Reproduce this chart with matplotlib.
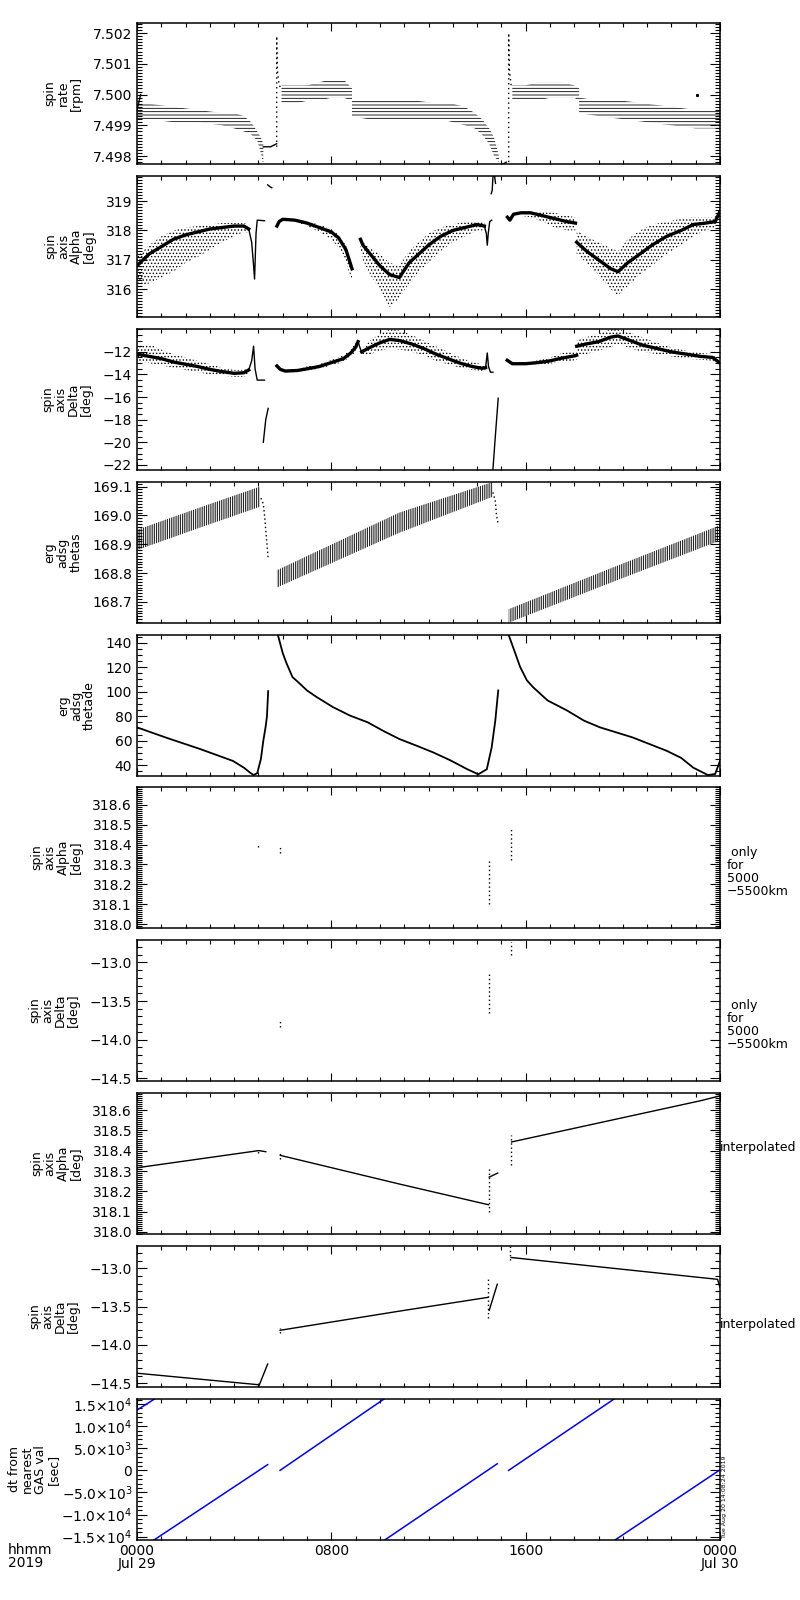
"""ERG spin-axis / attitude summary plot for 2019-07-29 (IDL tplot look-alike)."""
import matplotlib
import matplotlib.pyplot as plt
from matplotlib.ticker import FixedLocator, FixedFormatter, MultipleLocator

matplotlib.use("Agg")

plt.rcParams["font.family"] = ["DejaVu Sans"]
plt.rcParams["hatch.linewidth"] = 0.6

BLACK = "#000000"
BLUE = "#0000ff"

# ---------------- data, x in hours from 2019-07-29 00:00 ----------------
# panel 1: spin rate [rpm] (quantised -> band of levels)
rate_a_h = [0.0, 0.5, 1.5, 2.5, 3.5, 4.0, 4.4, 4.7, 4.95, 5.1, 5.2]
rate_a_lo = [7.4992, 7.4992, 7.4991, 7.4991, 7.4990, 7.4989, 7.4988, 7.4987, 7.4985, 7.4981, 7.4977]
rate_a_hi = [7.4997, 7.4997, 7.4996, 7.4995, 7.4994, 7.4994, 7.4993, 7.4991, 7.4988, 7.4986, 7.4984]
rate_b_h = [5.95, 6.5, 7.0, 7.5, 8.0, 8.5, 8.85]
rate_b_lo = [7.4997, 7.4997, 7.4998, 7.4998, 7.4999, 7.4999, 7.4998]
rate_b_hi = [7.5003, 7.5003, 7.5003, 7.5004, 7.5005, 7.5005, 7.5002]
rate_c_h = [8.85, 9.5, 10.5, 11.5, 12.5, 13.0, 13.5, 13.9, 14.2, 14.5, 14.7, 14.9]
rate_c_lo = [7.4993, 7.4992, 7.4992, 7.4992, 7.4992, 7.4991, 7.4990, 7.4989, 7.4987, 7.4984, 7.4980, 7.4978]
rate_c_hi = [7.4998, 7.4998, 7.4998, 7.4998, 7.4997, 7.4997, 7.4996, 7.4994, 7.4992, 7.4989, 7.4986, 7.4980]
rate_d_h = [15.45, 16.0, 16.5, 17.0, 17.5, 18.0, 18.2]
rate_d_lo = [7.4998, 7.4998, 7.4998, 7.4999, 7.4999, 7.4999, 7.4998]
rate_d_hi = [7.5003, 7.5003, 7.5004, 7.5004, 7.5004, 7.5003, 7.5002]
rate_e_h = [18.2, 19.0, 20.0, 21.0, 22.0, 23.0, 24.0]
rate_e_lo = [7.4994, 7.4993, 7.4992, 7.4991, 7.4990, 7.4989, 7.4989]
rate_e_hi = [7.4999, 7.4998, 7.4998, 7.4997, 7.4996, 7.4995, 7.4995]
rate_flat_h = [[5.2, 5.5, 5.75], [14.9, 15.0, 15.2]]
rate_flat_v = [[7.4983, 7.4983, 7.4984], [7.4977, 7.4977, 7.4978]]
rate_spike_h = [[5.75, 5.75, 5.78, 5.85, 5.95], [15.3, 15.3, 15.33, 15.4, 15.45]]
rate_spike_v = [[7.4983, 7.5019, 7.5008, 7.5003, 7.5002], [7.4978, 7.5020, 7.5008, 7.5003, 7.5002]]
rate_start_h = [0.0, 0.15]
rate_start_v = [7.4995, 7.5000]
rate_lone_h = [23.05]
rate_lone_v = [7.5000]

# panel 2: spin axis alpha [deg]  (core line + scatter envelope)
alpha_seg_h = [
    [0.0, 0.5, 1.0, 1.5, 2.0, 2.5, 3.0, 3.5, 4.0, 4.4, 4.6],
    [5.76, 5.85, 6.0, 6.5, 7.0, 7.5, 8.0, 8.3, 8.6, 8.85],
    [9.2, 9.3, 9.6, 10.0, 10.4, 10.8, 11.2, 11.6, 12.0, 12.5, 13.0, 13.5, 14.0, 14.3],
    [15.25, 15.35, 15.5, 15.8, 16.2, 16.7, 17.2, 17.7, 18.05],
    [18.1, 18.5, 19.0, 19.5, 19.8, 20.2, 20.7, 21.2, 21.8, 22.4, 22.9, 23.4, 23.8, 24.0],
]
alpha_seg_core = [
    [316.8, 317.2, 317.45, 317.7, 317.85, 317.95, 318.05, 318.1, 318.15, 318.15, 318.05],
    [318.15, 318.3, 318.38, 318.35, 318.25, 318.1, 317.95, 317.75, 317.35, 316.7],
    [317.7, 317.5, 317.2, 316.8, 316.5, 316.4, 316.9, 317.2, 317.5, 317.8, 318.0, 318.1, 318.2, 318.15],
    [318.45, 318.35, 318.55, 318.6, 318.6, 318.5, 318.4, 318.3, 318.25],
    [317.6, 317.3, 317.0, 316.7, 316.6, 316.9, 317.2, 317.5, 317.8, 318.0, 318.2, 318.25, 318.3, 318.65],
]
alpha_seg_lo = [
    [316.1, 316.2, 316.4, 316.6, 316.9, 317.1, 317.35, 317.6, 317.8, 317.95, 317.9],
    [318.12, 318.27, 318.33, 318.3, 318.15, 317.95, 317.7, 317.4, 316.9, 316.3],
    [317.3, 317.0, 316.5, 316.0, 315.4, 315.7, 316.2, 316.6, 316.9, 317.3, 317.6, 317.8, 318.0, 318.0],
    [318.4, 318.3, 318.5, 318.5, 318.45, 318.3, 318.1, 318.0, 318.0],
    [317.2, 316.9, 316.5, 316.0, 315.8, 316.1, 316.5, 316.8, 317.2, 317.5, 317.8, 318.0, 318.1, 318.5],
]
alpha_seg_hi = [
    [317.1, 317.5, 317.8, 318.0, 318.1, 318.15, 318.2, 318.25, 318.25, 318.25, 318.2],
    [318.2, 318.35, 318.42, 318.4, 318.3, 318.2, 318.05, 317.85, 317.5, 316.9],
    [317.8, 317.6, 317.4, 317.2, 316.9, 316.8, 317.3, 317.6, 317.9, 318.1, 318.2, 318.3, 318.3, 318.3],
    [318.5, 318.4, 318.6, 318.65, 318.65, 318.65, 318.6, 318.5, 318.45],
    [318.0, 317.8, 317.6, 317.4, 317.3, 317.7, 318.0, 318.2, 318.3, 318.4, 318.45, 318.45, 318.45, 318.7],
]
alpha_line_h = [
    [4.6, 4.72, 4.8, 4.84, 4.9, 4.95, 5.25],
    [5.38, 5.45, 5.55],
    [14.3, 14.38, 14.42, 14.46, 14.52, 14.6],
    [14.58, 14.62, 14.66, 14.72, 14.76],
]
alpha_line_v = [
    [318.05, 317.6, 316.8, 316.35, 317.9, 318.35, 318.33],
    [319.55, 319.5, 319.45],
    [318.15, 317.9, 317.5, 317.9, 318.3, 318.35],
    [319.25, 319.35, 319.9, 319.85, 319.6],
]

# panel 3: spin axis delta [deg]
delta_seg_h = [
    [0.0, 0.5, 1.0, 1.5, 2.0, 2.5, 3.0, 3.5, 4.0, 4.4, 4.6],
    [5.76, 5.9, 6.1, 6.6, 7.0, 7.5, 8.0, 8.5, 8.8, 9.0, 9.1],
    [9.25, 9.6, 10.0, 10.4, 10.8, 11.3, 11.8, 12.3, 12.8, 13.3, 13.8, 14.2, 14.35],
    [15.24, 15.45, 16.0, 16.5, 17.0, 17.5, 17.9, 18.1],
    [18.1, 18.5, 19.0, 19.5, 19.8, 20.3, 20.8, 21.4, 22.0, 22.6, 23.2, 23.7, 24.0],
]
delta_seg_core = [
    [-12.2, -12.4, -12.6, -12.9, -13.1, -13.3, -13.55, -13.75, -13.9, -13.85, -13.6],
    [-13.25, -13.55, -13.7, -13.65, -13.5, -13.3, -12.95, -12.6, -12.1, -11.6, -11.1],
    [-12.0, -11.6, -11.2, -10.9, -11.0, -11.3, -11.7, -12.2, -12.6, -13.0, -13.3, -13.45, -13.4],
    [-12.75, -13.05, -13.05, -12.95, -12.8, -12.55, -12.4, -12.3],
    [-11.5, -11.3, -11.1, -10.7, -10.6, -11.0, -11.4, -11.7, -12.0, -12.2, -12.4, -12.5, -13.0],
]
delta_seg_lo = [
    [-12.8, -13.0, -13.2, -13.4, -13.6, -13.8, -14.0, -14.1, -14.2, -14.2, -14.0],
    [-13.35, -13.65, -13.8, -13.8, -13.65, -13.5, -13.2, -12.9, -12.4, -12.0, -11.5],
    [-12.4, -12.2, -11.9, -11.7, -11.8, -12.0, -12.3, -12.8, -13.1, -13.4, -13.6, -13.7, -13.6],
    [-12.9, -13.2, -13.2, -13.15, -13.05, -12.9, -12.8, -12.7],
    [-12.3, -12.2, -11.9, -11.6, -11.3, -11.7, -12.0, -12.2, -12.4, -12.6, -12.7, -12.8, -13.1],
]
delta_seg_hi = [
    [-11.4, -11.3, -11.8, -12.2, -12.5, -12.8, -13.1, -13.4, -13.6, -13.6, -13.4],
    [-13.15, -13.45, -13.6, -13.5, -13.3, -13.1, -12.7, -12.3, -11.8, -11.2, -10.8],
    [-11.8, -11.0, -10.4, -10.0, -10.1, -10.5, -11.0, -11.5, -12.0, -12.5, -12.9, -13.1, -13.2],
    [-12.6, -12.9, -12.9, -12.75, -12.5, -12.1, -12.0, -11.9],
    [-11.0, -10.7, -10.4, -10.0, -10.0, -10.3, -10.7, -11.2, -11.6, -11.9, -12.1, -12.2, -12.9],
]
delta_line_h = [
    [4.6, 4.72, 4.8, 4.86, 4.95, 5.25],
    [5.2, 5.3, 5.4],
    [9.1, 9.25],
    [14.35, 14.42, 14.47, 14.55, 14.65],
    [14.65, 14.75, 14.87],
]
delta_line_v = [
    [-13.6, -12.8, -11.5, -13.5, -14.5, -14.5],
    [-20.0, -18.0, -17.0],
    [-11.1, -12.1],
    [-13.4, -12.1, -13.3, -13.8, -13.8],
    [-22.45, -19.5, -16.1],
]

# panel 4: erg adsg thetas
thetas_seg_h = [[0.0, 2.5, 5.06], [5.76, 10.8, 14.65], [15.3, 19.6, 24.0]]
thetas_seg_lo = [[168.88, 168.955, 169.03], [168.75, 168.94, 169.065], [168.628, 168.77, 168.913]]
thetas_seg_hi = [[168.95, 169.025, 169.10], [168.81, 169.01, 169.116], [168.675, 168.82, 168.966]]
thetas_drop_h = [[5.1, 5.2, 5.25, 5.3, 5.4], [14.65, 14.75, 14.8, 14.87]]
thetas_drop_v = [[169.06, 169.04, 169.0, 168.95, 168.85], [169.08, 169.05, 169.0, 168.97]]

# panel 5: erg adsg thetade
thetade_seg_h = [
    [0.0, 1.2, 2.6, 3.95, 4.4, 4.65, 4.8, 4.95, 5.1, 5.2, 5.3, 5.35, 5.4],
    [5.8, 6.0, 6.16, 6.4, 6.7, 7.0, 7.4, 8.07, 8.77, 9.5, 10.14, 10.8, 11.5, 12.2, 12.9,
     13.6, 14.05, 14.4, 14.6, 14.75, 14.87],
    [15.3, 15.57, 15.77, 16.05, 16.3, 16.9, 17.7, 18.4, 19.06, 20.4, 21.8, 22.4, 22.9, 23.5,
     23.8, 24.0],
]
thetade_seg_v = [
    [70.9, 62.5, 53.2, 43.5, 38.0, 34.0, 32.0, 33.5, 45.0, 60.0, 72.0, 80.0, 100.5],
    [146.3, 131.5, 123.0, 112.0, 106.6, 101.0, 95.6, 87.4, 80.5, 75.0, 68.0, 61.4, 56.0, 50.4,
     44.0, 36.7, 32.6, 36.7, 54.5, 76.4, 101.0],
    [146.3, 131.5, 120.3, 109.3, 103.8, 92.9, 84.7, 76.4, 70.9, 62.7, 51.8, 46.0, 38.0, 32.0,
     32.8, 43.5],
]

# panels 6/7: values only for 5000-5500 km (sparse vertical dot runs)
only_alpha_h = [5.0, 5.9, 14.47, 15.4]
only_alpha_lo = [318.39, 318.36, 318.10, 318.32]
only_alpha_hi = [318.41, 318.39, 318.32, 318.48]
only_delta_h = [5.9, 14.47, 15.4, 24.0]
only_delta_lo = [-13.83, -13.65, -12.9, -13.22]
only_delta_hi = [-13.75, -13.14, -12.73, -13.15]

# panels 8/9: interpolated
interp_alpha_h = [[0.0, 4.98, 5.05, 5.3], [5.9, 10.8, 14.47], [14.5, 14.85], [15.42, 23.2, 24.0]]
interp_alpha_v = [[318.316, 318.40, 318.40, 318.395], [318.377, 318.236, 318.134],
                  [318.27, 318.29], [318.443, 318.646, 318.67]]
interp_alpha_dot_h = [5.0, 5.9, 14.47, 15.4]
interp_alpha_dot_lo = [318.39, 318.36, 318.10, 318.33]
interp_alpha_dot_hi = [318.41, 318.39, 318.32, 318.476]
interp_delta_h = [[0.0, 4.99], [5.0, 5.38], [5.89, 10.8, 14.45], [14.5, 14.83], [15.4, 23.9, 24.0]]
interp_delta_v = [[-14.37, -14.52], [-14.55, -14.25], [-13.81, -13.56, -13.38],
                  [-13.55, -13.21], [-12.86, -13.145, -13.25]]
interp_delta_dot_h = [5.89, 14.45, 15.36]
interp_delta_dot_lo = [-13.84, -13.65, -12.89]
interp_delta_dot_hi = [-13.78, -13.14, -12.71]

# panel 10: dt from nearest GAS value [sec]
dt_seg_h = [[0.0, 0.72], [0.7, 5.38], [5.89, 10.17], [10.2, 14.83], [15.3, 19.64], [19.68, 24.0]]
dt_seg_v = [[13630, 16140], [-15750, 1300], [0, 16140], [-15750, 1490], [0, 16140], [-15750, 125]]

# ---------------- axes annotation ----------------
y_titles = [
    "spin\nrate\n[rpm]",
    "spin\naxis\nAlpha\n[deg]",
    "spin\naxis\nDelta\n[deg]",
    "erg\nadsg\nthetas",
    "erg\nadsg\nthetade",
    "spin\naxis\nAlpha\n[deg]",
    "spin\naxis\nDelta\n[deg]",
    "spin\naxis\nAlpha\n[deg]",
    "spin\naxis\nDelta\n[deg]",
    "dt from\nnearest\nGAS val\n[sec]",
]
y_label_pad = [7, 7, 7, 7, 7, 7, 7, 7, 7, 1]
y_limits = [
    (7.49774, 7.50233), (315.06, 319.85), (-22.45, -9.98), (168.627, 169.116),
    (31.2, 146.3), (317.98, 318.69), (-14.535, -12.71), (317.99, 318.684),
    (-14.55, -12.71), (-15750, 16140),
]
y_major = [
    [7.498, 7.499, 7.500, 7.501, 7.502],
    [316, 317, 318, 319],
    [-22, -20, -18, -16, -14, -12],
    [168.7, 168.8, 168.9, 169.0, 169.1],
    [40, 60, 80, 100, 120, 140],
    [318.0, 318.1, 318.2, 318.3, 318.4, 318.5, 318.6],
    [-14.5, -14.0, -13.5, -13.0],
    [318.0, 318.1, 318.2, 318.3, 318.4, 318.5, 318.6],
    [-14.5, -14.0, -13.5, -13.0],
    [-15000, -10000, -5000, 0, 5000, 10000, 15000],
]
y_major_labels = [
    ["7.498", "7.499", "7.500", "7.501", "7.502"],
    ["316", "317", "318", "319"],
    ["\u221222", "\u221220", "\u221218", "\u221216", "\u221214", "\u221212"],
    ["168.7", "168.8", "168.9", "169.0", "169.1"],
    ["40", "60", "80", "100", "120", "140"],
    ["318.0", "318.1", "318.2", "318.3", "318.4", "318.5", "318.6"],
    ["\u221214.5", "\u221214.0", "\u221213.5", "\u221213.0"],
    ["318.0", "318.1", "318.2", "318.3", "318.4", "318.5", "318.6"],
    ["\u221214.5", "\u221214.0", "\u221213.5", "\u221213.0"],
    ["\u22121.5$\\times$10$^{4}$", "\u22121.0$\\times$10$^{4}$", "\u22125.0$\\times$10$^{3}$", "0",
     "5.0$\\times$10$^{3}$", "1.0$\\times$10$^{4}$", "1.5$\\times$10$^{4}$"],
]
y_minor_step = [0.0001, 0.1, 0.5, 0.01, 5, 0.01, 0.1, 0.01, 0.1, 1000]
ONLY_NOTE = " only\nfor\n5000\n\u22125500km"
right_notes = {5: (ONLY_NOTE, 1.012, 0.40), 6: (ONLY_NOTE, 1.012, 0.40),
               7: ("interpolated", 1.0, 0.61), 8: ("interpolated", 1.0, 0.44)}

x_major = [0, 8, 16, 24]
x_major_labels = ["0000\nJul 29", "0800", "1600", "0000\nJul 30"]

# ---------------- figure ----------------
W, H = 800, 1600
LEFT, RIGHT = 137, 720
PANEL_TOPS = [23, 176, 329, 482, 635, 787, 940, 1093, 1246, 1399]
PANEL_H = 141

fig = plt.figure(figsize=(W / 100, H / 100), dpi=100, facecolor="white")
axes = []
for top in PANEL_TOPS:
    ax = fig.add_axes([LEFT / W, 1 - (top + PANEL_H) / H, (RIGHT - LEFT) / W, PANEL_H / H])
    axes.append(ax)

for i, ax in enumerate(axes):
    ax.set_xlim(0, 24)
    ax.set_ylim(*y_limits[i])
    for sp in ax.spines.values():
        sp.set_linewidth(1.1)
    ax.xaxis.set_major_locator(FixedLocator(x_major))
    ax.xaxis.set_minor_locator(MultipleLocator(1))
    ax.yaxis.set_major_locator(FixedLocator(y_major[i]))
    ax.yaxis.set_major_formatter(FixedFormatter(y_major_labels[i]))
    ax.yaxis.set_minor_locator(MultipleLocator(y_minor_step[i]))
    ax.tick_params(which="both", direction="in", top=True, right=True, width=0.8,
                   labelsize=10, colors=BLACK)
    ax.tick_params(axis="y", which="major", length=7.2, pad=3.5)
    ax.tick_params(axis="y", which="minor", length=3.6)
    ax.tick_params(axis="x", which="major", length=5.8, pad=3)
    ax.tick_params(axis="x", which="minor", length=3.1)
    ax.set_ylabel(y_titles[i], fontsize=9, linespacing=1.0, labelpad=y_label_pad[i])
    if i < len(axes) - 1:
        ax.tick_params(axis="x", labelbottom=False)
    if i in right_notes:
        txt, xfrac, yfrac = right_notes[i]
        ax.text(xfrac, yfrac, txt, transform=ax.transAxes, ha="left", va="center",
                fontsize=9, linespacing=1.0)

# panel 1
ax = axes[0]
for h, lo, hi in [(rate_a_h, rate_a_lo, rate_a_hi), (rate_b_h, rate_b_lo, rate_b_hi),
                  (rate_c_h, rate_c_lo, rate_c_hi), (rate_d_h, rate_d_lo, rate_d_hi),
                  (rate_e_h, rate_e_lo, rate_e_hi)]:
    ax.fill_between(h, lo, hi, facecolor="none", edgecolor=BLACK, hatch="-----", linewidth=0)
for h, v in zip(rate_flat_h, rate_flat_v):
    ax.plot(h, v, color=BLACK, lw=1.0)
for h, v in zip(rate_spike_h, rate_spike_v):
    ax.plot(h, v, color=BLACK, lw=1.0, ls=(0, (1, 2.5)))
ax.plot(rate_start_h, rate_start_v, color=BLACK, lw=1.0)
ax.plot(rate_lone_h, rate_lone_v, "s", color=BLACK, ms=1.2)

# panels 2 and 3
for ax, seg_h, seg_core, seg_lo, seg_hi, line_h, line_v in [
        (axes[1], alpha_seg_h, alpha_seg_core, alpha_seg_lo, alpha_seg_hi, alpha_line_h, alpha_line_v),
        (axes[2], delta_seg_h, delta_seg_core, delta_seg_lo, delta_seg_hi, delta_line_h, delta_line_v)]:
    for h, core, lo, hi in zip(seg_h, seg_core, seg_lo, seg_hi):
        ax.fill_between(h, lo, hi, facecolor="none", edgecolor=BLACK, hatch=".....", linewidth=0)
        ax.plot(h, core, color=BLACK, lw=2.4)
    for h, v in zip(line_h, line_v):
        ax.plot(h, v, color=BLACK, lw=1.0)

# panel 4
ax = axes[3]
for h, lo, hi in zip(thetas_seg_h, thetas_seg_lo, thetas_seg_hi):
    ax.fill_between(h, lo, hi, facecolor="none", edgecolor=BLACK, hatch="|||||||||", linewidth=0)
for h, v in zip(thetas_drop_h, thetas_drop_v):
    ax.plot(h, v, color=BLACK, lw=1.0, ls=(0, (1, 2)))

# panel 5
ax = axes[4]
for h, v in zip(thetade_seg_h, thetade_seg_v):
    ax.plot(h, v, color=BLACK, lw=1.3)

# panels 6 and 7
axes[5].vlines(only_alpha_h, only_alpha_lo, only_alpha_hi, colors=BLACK, lw=1.0,
               linestyles=(0, (1, 2)))
axes[6].vlines(only_delta_h, only_delta_lo, only_delta_hi, colors=BLACK, lw=1.0,
               linestyles=(0, (1, 2)))

# panels 8 and 9
ax = axes[7]
for h, v in zip(interp_alpha_h, interp_alpha_v):
    ax.plot(h, v, color=BLACK, lw=1.0)
ax.vlines(interp_alpha_dot_h, interp_alpha_dot_lo, interp_alpha_dot_hi, colors=BLACK, lw=1.0,
          linestyles=(0, (1, 2)))
ax = axes[8]
for h, v in zip(interp_delta_h, interp_delta_v):
    ax.plot(h, v, color=BLACK, lw=1.0)
ax.vlines(interp_delta_dot_h, interp_delta_dot_lo, interp_delta_dot_hi, colors=BLACK, lw=1.0,
          linestyles=(0, (1, 2)))

# panel 10
ax = axes[9]
for h, v in zip(dt_seg_h, dt_seg_v):
    ax.plot(h, v, color=BLUE, lw=1.1)
ax.xaxis.set_major_formatter(FixedFormatter(x_major_labels))
for lab in ax.get_xticklabels():
    lab.set_linespacing(0.9)

fig.text(8 / W, 1 - 1543 / H, "hhmm\n2019", ha="left", va="top", fontsize=10, linespacing=0.9)
fig.text(722 / W, 1 - 1538 / H, "Tue Aug 20 14:08:24 2019", rotation=90, ha="left",
         va="bottom", fontsize=4.5)

fig.savefig("out.png", dpi=100, facecolor="white")
plt.close(fig)
